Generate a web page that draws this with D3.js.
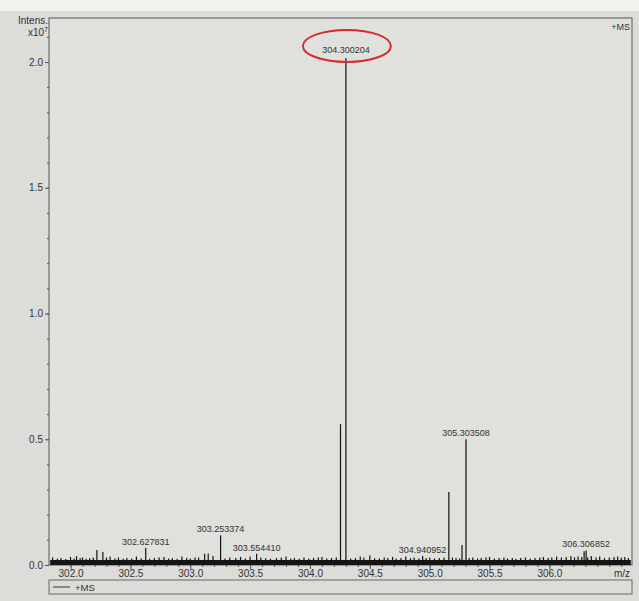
<!DOCTYPE html>
<html>
<head>
<meta charset="utf-8">
<script src="https://cdn.jsdelivr.net/npm/d3@7"></script>
<style>
  html, body { margin: 0; padding: 0; background: #dcdcd8; }
  svg { display: block; font-family: "Liberation Sans", Arial, sans-serif; }
</style>
</head>
<body>
<svg id="chart" width="639" height="601"></svg>
<script>
// labelled and unlabelled peaks, m/z and intensity (x10^7)
const peakMz = [302.627831, 303.253374, 303.554410, 304.255, 304.300204, 304.940952, 305.160, 305.270, 305.303508, 306.290, 306.306852];
const peakInt = [0.068, 0.118, 0.045, 0.56, 2.016, 0.036, 0.29, 0.08, 0.50, 0.055, 0.058];
const peakLabels = ["302.627831", "303.253374", "303.554410", "", "304.300204", "304.940952", "", "", "305.303508", "", "306.306852"];

// small noise spikes along the baseline
const noiseMz = [301.85, 301.89, 301.92, 301.96, 302.00, 302.03, 302.05, 302.08, 302.10, 302.13, 302.16, 302.19,
  302.22, 302.27, 302.30, 302.33, 302.37, 302.40, 302.44, 302.47, 302.51, 302.55, 302.59, 302.66, 302.70, 302.74,
  302.78, 302.82, 302.85, 302.89, 302.93, 302.97, 303.00, 303.04, 303.07, 303.12, 303.15, 303.19, 303.29, 303.33,
  303.38, 303.42, 303.46, 303.50, 303.59, 303.63, 303.67, 303.72, 303.76, 303.80, 303.84, 303.87, 303.91, 303.95,
  303.99, 304.03, 304.07, 304.10, 304.14, 304.18, 304.22, 304.34, 304.38, 304.42, 304.45, 304.50, 304.54, 304.58,
  304.62, 304.65, 304.69, 304.72, 304.76, 304.80, 304.84, 304.87, 304.91, 304.97, 305.00, 305.04, 305.08, 305.12,
  305.19, 305.22, 305.25, 305.33, 305.36, 305.40, 305.43, 305.47, 305.50, 305.54, 305.58, 305.62, 305.65, 305.69,
  305.72, 305.76, 305.80, 305.84, 305.88, 305.92, 305.95, 305.99, 306.02, 306.06, 306.10, 306.14, 306.18, 306.21,
  306.24, 306.27, 306.32, 306.35, 306.39, 306.42, 306.46, 306.50, 306.54, 306.57, 306.60, 306.63, 306.66];
const noiseInt = [0.03, 0.025, 0.028, 0.024, 0.032, 0.026, 0.035, 0.028, 0.03, 0.025, 0.027, 0.03,
  0.06, 0.052, 0.03, 0.034, 0.026, 0.03, 0.025, 0.028, 0.026, 0.034, 0.027, 0.025, 0.028, 0.03,
  0.032, 0.026, 0.028, 0.025, 0.034, 0.028, 0.026, 0.03, 0.03, 0.045, 0.046, 0.036, 0.026, 0.03,
  0.028, 0.032, 0.026, 0.034, 0.03, 0.027, 0.025, 0.028, 0.03, 0.034, 0.026, 0.028, 0.025, 0.03,
  0.026, 0.028, 0.03, 0.032, 0.026, 0.028, 0.03, 0.026, 0.028, 0.034, 0.03, 0.038, 0.027, 0.026,
  0.03, 0.028, 0.032, 0.026, 0.028, 0.034, 0.027, 0.03, 0.026, 0.028, 0.03, 0.026, 0.028, 0.03,
  0.03, 0.028, 0.026, 0.028, 0.03, 0.026, 0.028, 0.03, 0.032, 0.026, 0.028, 0.03, 0.026, 0.028,
  0.025, 0.028, 0.03, 0.026, 0.028, 0.03, 0.032, 0.028, 0.03, 0.034, 0.03, 0.032, 0.036, 0.03,
  0.034, 0.032, 0.03, 0.036, 0.03, 0.034, 0.028, 0.03, 0.032, 0.034, 0.03, 0.032, 0.028];
const baseLevel = 0.02;

const xTicks = [302.0, 302.5, 303.0, 303.5, 304.0, 304.5, 305.0, 305.5, 306.0];
const yTicks = [0.0, 0.5, 1.0, 1.5, 2.0];

const svg = d3.select("#chart");
const m = { left: 49, right: 632, top: 18, bottom: 565 };
const ink = "#333";

svg.append("rect").attr("x", 0).attr("y", 0).attr("width", 639).attr("height", 11).attr("fill", "#f1f1ef");
svg.append("rect").attr("x", 0).attr("y", 11).attr("width", 639).attr("height", 590).attr("fill", "#dcdcd8");

const x = d3.scaleLinear().domain([301.82, 306.69]).range([m.left, m.right]);
const y = d3.scaleLinear().domain([0, 2.175]).range([m.bottom, m.top]);

// frame
svg.append("rect")
  .attr("x", m.left).attr("y", m.top)
  .attr("width", m.right - m.left).attr("height", m.bottom - m.top)
  .attr("fill", "#e0e0dc")
  .attr("stroke", "#555").attr("stroke-width", 1);

// baseline noise band
svg.append("rect")
  .attr("x", x(301.83)).attr("y", y(baseLevel))
  .attr("width", x(306.68) - x(301.83)).attr("height", y(0) - y(baseLevel))
  .attr("fill", "#151515");

svg.append("g").selectAll("line")
  .data(noiseMz.map((d, i) => [d, noiseInt[i]]))
  .join("line")
  .attr("x1", d => x(d[0])).attr("x2", d => x(d[0]))
  .attr("y1", y(0)).attr("y2", d => y(d[1]))
  .attr("stroke", "#151515").attr("stroke-width", 1.2);

// peaks
const peaks = peakMz.map((d, i) => ({ mz: d, v: peakInt[i], label: peakLabels[i] }));
svg.append("g").selectAll("line")
  .data(peaks)
  .join("line")
  .attr("x1", d => x(d.mz)).attr("x2", d => x(d.mz))
  .attr("y1", y(0)).attr("y2", d => y(d.v))
  .attr("stroke", "#111").attr("stroke-width", 1.2);

svg.append("g").selectAll("text")
  .data(peaks.filter(d => d.label))
  .join("text")
  .attr("x", d => x(d.mz))
  .attr("y", d => y(d.v) - (d.v > 1 ? 5 : 3))
  .attr("text-anchor", "middle")
  .attr("font-size", 9)
  .attr("fill", ink)
  .text(d => d.label);

// red circle round the main peak label
const main = peaks[4];
svg.append("ellipse")
  .attr("cx", x(main.mz) + 1).attr("cy", y(main.v) - 12)
  .attr("rx", 44).attr("ry", 16)
  .attr("fill", "none").attr("stroke", "#d42a30").attr("stroke-width", 2);

// axes
const xAxis = svg.append("g")
  .attr("transform", `translate(0,${m.bottom})`)
  .call(d3.axisBottom(x).tickValues(xTicks).tickFormat(d3.format(".1f")).tickSize(4).tickPadding(1));
xAxis.select(".domain").remove();
xAxis.selectAll("text").attr("font-size", 10).attr("fill", ink).attr("font-family", "Liberation Sans, Arial");
xAxis.selectAll("line").attr("stroke", "#555");

svg.append("g").attr("transform", `translate(0,${m.bottom})`)
  .call(d3.axisBottom(x).tickValues(d3.range(302.0, 306.65, 0.1)).tickFormat("").tickSize(2))
  .call(g => g.select(".domain").remove())
  .selectAll("line").attr("stroke", "#555");

const yAxis = svg.append("g")
  .attr("transform", `translate(${m.left},0)`)
  .call(d3.axisLeft(y).tickValues(yTicks).tickFormat(d3.format(".1f")).tickSize(4).tickPadding(2));
yAxis.select(".domain").remove();
yAxis.selectAll("text").attr("font-size", 10).attr("fill", ink).attr("font-family", "Liberation Sans, Arial");
yAxis.selectAll("line").attr("stroke", "#555");

svg.append("g").attr("transform", `translate(${m.left},0)`)
  .call(d3.axisLeft(y).tickValues(d3.range(0.1, 2.15, 0.1)).tickFormat("").tickSize(2))
  .call(g => g.select(".domain").remove())
  .selectAll("line").attr("stroke", "#555");

// axis titles
svg.append("text").attr("x", 48).attr("y", 24).attr("text-anchor", "end")
  .attr("font-size", 10).attr("fill", ink).text("Intens.");
const xt = svg.append("text").attr("x", 48).attr("y", 36).attr("text-anchor", "end")
  .attr("font-size", 10).attr("fill", ink);
xt.append("tspan").text("x10");
xt.append("tspan").attr("dy", -4).attr("font-size", 7).text("7");
svg.append("text").attr("x", 630).attr("y", 577).attr("text-anchor", "end")
  .attr("font-size", 10).attr("fill", ink).text("m/z");
svg.append("text").attr("x", 630).attr("y", 30).attr("text-anchor", "end")
  .attr("font-size", 9).attr("fill", ink).text("+MS");

// legend
svg.append("rect").attr("x", m.left).attr("y", 580).attr("width", m.right - m.left).attr("height", 14)
  .attr("fill", "none").attr("stroke", "#666").attr("stroke-width", 1);
svg.append("line").attr("x1", 53).attr("x2", 70).attr("y1", 587).attr("y2", 587)
  .attr("stroke", "#333").attr("stroke-width", 1);
svg.append("text").attr("x", 75).attr("y", 591).attr("font-size", 9.5).attr("fill", ink).text("+MS");
</script>
</body>
</html>
